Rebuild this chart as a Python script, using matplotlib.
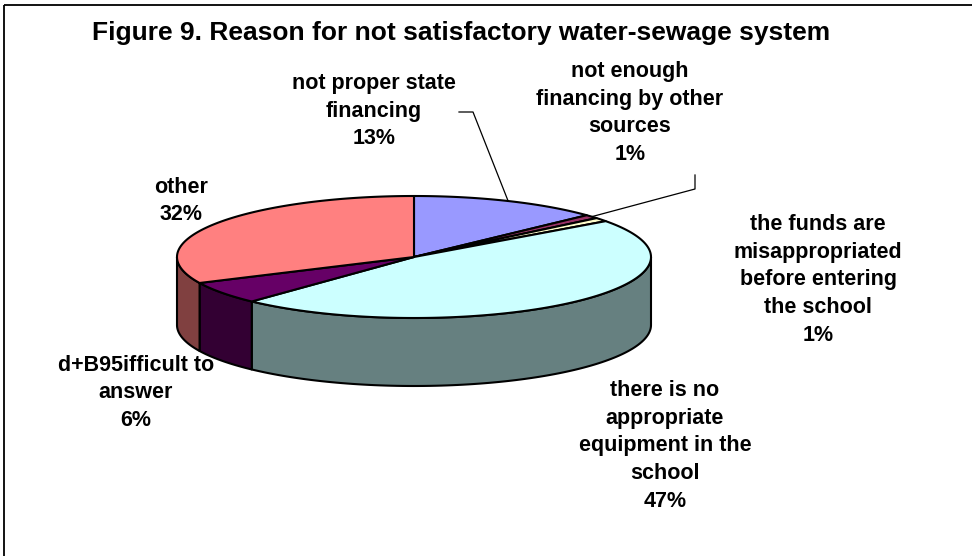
import numpy as np
import matplotlib
matplotlib.use("Agg")
import matplotlib.pyplot as plt
from matplotlib.patches import Polygon, Rectangle

plt.rcParams['font.family'] = ['Liberation Sans', 'DejaVu Sans']

# data
labels = ["not proper state\nfinancing",
          "not enough\nfinancing by other\nsources",
          "the funds are\nmisappropriated\nbefore entering\nthe school",
          "there is no\nappropriate\nequipment in the\nschool",
          "d+B95ifficult to\nanswer",
          "other"]
values = [13, 1, 1, 47, 6, 32]
top_colors = ["#9999FF", "#993366", "#FFFFCC", "#CCFFFF", "#660066", "#FF8080"]
side_colors = ["#4D4D80", "#4D1A33", "#808066", "#668080", "#330033", "#804040"]

title = "Figure 9. Reason for not satisfactory water-sewage system"

# label centres (pixels) and leader line anchors
label_pos = [(374, 111), (630, 113), (818, 280), (665, 446), (136, 393), (181, 201)]
leaders = {0: [(459, 112), (473, 112)], 1: [(695, 175), (695, 189)]}

# pie geometry in pixels
cx, cy, a, b, depth = 414, 257, 237, 61, 68


def rim(t, dy=0.0):
    r = np.radians(t)
    return np.column_stack([cx + a * np.sin(r), cy - b * np.cos(r) + dy])


fig = plt.figure(figsize=(9.72, 5.56), dpi=100)
ax = fig.add_axes([0, 0, 1, 1])
ax.set_xlim(0, 972)
ax.set_ylim(556, 0)
ax.axis("off")

# chart frame
ax.add_patch(Rectangle((4, 5), 1000, 600, fill=False, ec="black", lw=1.3, zorder=0))

total = sum(values)
bounds = np.concatenate([[0], np.cumsum(values)]) / total * 360

# front walls
for i in range(len(values)):
    t0, t1 = max(bounds[i], 90), min(bounds[i + 1], 270)
    if t1 <= t0:
        continue
    ts = np.linspace(t0, t1, 100)
    pts = np.vstack([rim(ts), rim(ts[::-1], depth)])
    ax.add_patch(Polygon(pts, closed=True, fc=side_colors[i], ec="black",
                         lw=1.5, joinstyle="round", zorder=1))

# top faces
for i in range(len(values)):
    ts = np.linspace(bounds[i], bounds[i + 1], 200)
    pts = np.vstack([[cx, cy], rim(ts)])
    ax.add_patch(Polygon(pts, closed=True, fc=top_colors[i], ec="black",
                         lw=1.5, joinstyle="round", zorder=2))

# labels
for i, (lab, v) in enumerate(zip(labels, values)):
    x, y = label_pos[i]
    ax.text(x, y, f"{lab}\n{v}%", ha="center", va="center", multialignment="center",
            fontsize=15.5, fontweight="bold", linespacing=1.42, zorder=3)
    if i in leaders:
        mid = (bounds[i] + bounds[i + 1]) / 2
        end = rim([mid])[0]
        pts = np.array(leaders[i] + [tuple(end)])
        ax.plot(pts[:, 0], pts[:, 1], color="black", lw=0.9, zorder=3)

ax.text(461, 33, title, ha="center", va="center", fontsize=19, fontweight="bold")

fig.savefig("out.png", dpi=100)
